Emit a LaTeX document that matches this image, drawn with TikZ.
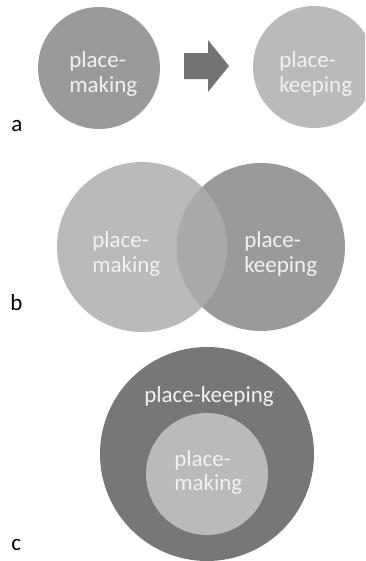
\documentclass[tikz,border=0pt]{standalone}
\usepackage{fontspec}
\setmainfont{Carlito}
\definecolor{midgray}{HTML}{9A9A9A}
\definecolor{lightgray}{HTML}{BABABA}
\definecolor{darkgray}{HTML}{777777}
\definecolor{arrowgray}{HTML}{737373}
\definecolor{overlapgray}{HTML}{AAAAAA}
\definecolor{labeltext}{HTML}{F2F2F2}
\begin{document}
\begin{tikzpicture}[x=0.75pt,y=-0.75pt,
  disc/.style={circle,inner sep=0pt,minimum size={#1*0.75pt}},
  txt/.style={anchor=base west,inner sep=0pt,text=labeltext,
    font=\fontsize{17.25}{18.75}\selectfont},
  tag/.style={anchor=base west,inner sep=0pt,text=black,
    font=\fontsize{17.25}{18.75}\selectfont}]
\useasboundingbox (0,0) rectangle (365,561);
\clip (0,0) rectangle (365,561);

% --- a: sequence ---
\node[disc=122,fill=midgray] (am) at (99,68) {};
\node[disc=122,fill=lightgray] (ak) at (314,67) {};
\fill[arrowgray] (184,53) -- (208,53) -- (208,40) -- (229,66)
  -- (208,92) -- (208,79) -- (184,79) -- cycle;
\node[txt] (am1) at (69,67) {place-};
\node[txt] (am2) at (69,92) {making};
\node[txt] (ak1) at (279,67) {place-};
\node[txt] (ak2) at (279,92) {keeping};
\node[tag] (la) at (11,131) {a};

% --- b: overlap ---
\node[disc=170,fill=lightgray] (bm) at (142,247) {};
\node[disc=168,fill=midgray] (bk) at (261,247) {};
\begin{scope}
  \clip (142,247) circle[radius=85];
  \fill[overlapgray] (261,247) circle[radius=84];
\end{scope}
\node[txt] (bm1) at (92,247) {place-};
\node[txt] (bm2) at (92,272) {making};
\node[txt] (bk1) at (244,247) {place-};
\node[txt] (bk2) at (244,272) {keeping};
\node[tag] (lb) at (10,310) {b};

% --- c: nested ---
\node[disc=214,fill=darkgray] (ck) at (207,454) {};
\node[disc=122,fill=lightgray] (cm) at (207,474) {};
\node[txt] (ck1) at (144,402) {place-keeping};
\node[txt] (cm1) at (174,466) {place-};
\node[txt] (cm2) at (174,490) {making};
\node[tag] (lc) at (11,550) {c};
\end{tikzpicture}
\end{document}
